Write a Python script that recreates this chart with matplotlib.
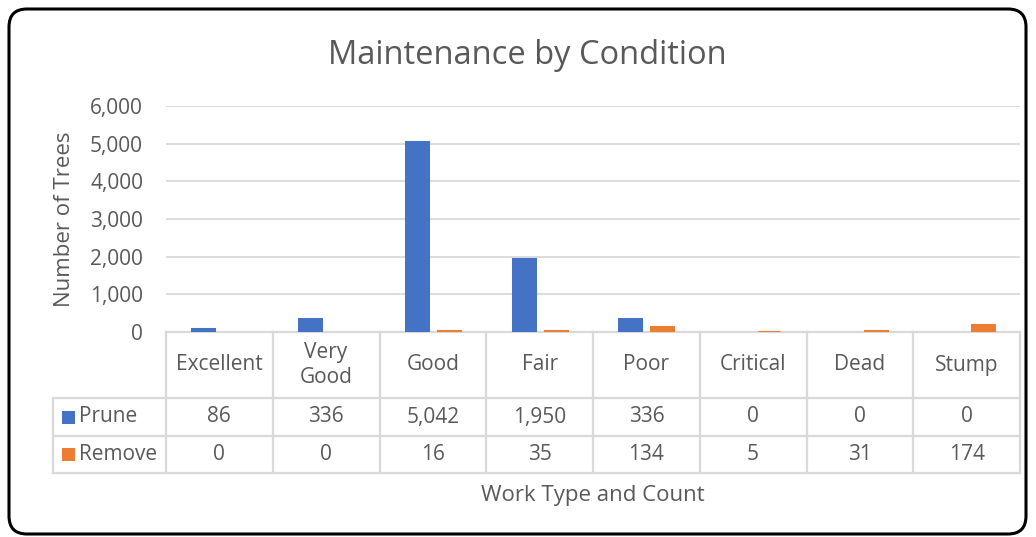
import matplotlib
matplotlib.use("Agg")
import matplotlib.pyplot as plt
import numpy as np
from matplotlib.patches import FancyBboxPatch, Rectangle
from matplotlib.lines import Line2D
from matplotlib.ticker import FuncFormatter
from matplotlib.transforms import blended_transform_factory

categories = ["Excellent", "Very\nGood", "Good", "Fair", "Poor", "Critical", "Dead", "Stump"]
series_names = ["Prune", "Remove"]
prune = [86, 336, 5042, 1950, 336, 0, 0, 0]
remove = [0, 0, 16, 35, 134, 5, 31, 174]
y_ticks = [0, 1000, 2000, 3000, 4000, 5000, 6000]

W, H = 1036, 537
blue = "#4472C4"
orange = "#ED7D31"
txt = "#595959"
grid = "#d9d9d9"
plt.rcParams["font.family"] = ["Open Sans", "DejaVu Sans"]

fig = plt.figure(figsize=(W / 100, H / 100), dpi=100)
fig.patch.set_facecolor("white")

# overlay in pixel coordinates (border, title, data table)
ov = fig.add_axes([0, 0, 1, 1])
ov.set_xlim(0, W)
ov.set_ylim(H, 0)
ov.axis("off")
ov.set_zorder(0)

# plot area in pixels
left, right, top, base = 166, 1020, 106, 332
ax = fig.add_axes([left / W, 1 - base / H, (right - left) / W, (base - top) / H])
ax.set_zorder(1)
ax.patch.set_visible(False)
x = np.arange(len(categories))
bw, off = 0.207, 0.15
# same-colour edge gives tiny values a visible sliver, as in the original
for vals, col, sgn in [(prune, blue, -1), (remove, orange, 1)]:
    bars = ax.bar(x + sgn * off, vals, bw, color=col, zorder=3)
    for b, v in zip(bars, vals):
        if v > 0:
            b.set_edgecolor(col)
            b.set_linewidth(2.2)
ax.set_xlim(-0.5, len(categories) - 0.5)
ax.set_ylim(0, 6000)
ax.set_yticks(y_ticks)
ax.yaxis.set_major_formatter(FuncFormatter(lambda v, p: f"{int(v):,}"))
ax.tick_params(axis="y", length=0, pad=16.5, labelsize=15, labelcolor=txt)
ax.set_xticks([])
ax.grid(axis="y", color=grid, linewidth=1.3, zorder=0)
for s in ax.spines.values():
    s.set_visible(False)
ax.set_ylabel("Number of Trees", fontsize=16, color=txt, labelpad=11)

ov.add_patch(FancyBboxPatch((9, 9), W - 19, H - 12, boxstyle="round,pad=0,rounding_size=18",
                            facecolor="none", edgecolor="black", linewidth=2.2, clip_on=False))

ov.text(527, 56, "Maintenance by Condition", fontsize=23.5, color=txt, ha="center", va="center")

# data table
tr = blended_transform_factory(ax.transData, ov.transData)
r0, r1, r2, r3 = 332, 398, 436, 473
lab_left = 53
lk = dict(color=grid, linewidth=1.6, solid_capstyle="projecting")
ov.add_line(Line2D([left, right], [r0, r0], **lk))
for yy in (r1, r2, r3):
    ov.add_line(Line2D([lab_left, right], [yy, yy], **lk))
ov.add_line(Line2D([lab_left, lab_left], [r1, r3], **lk))
for i in range(len(categories) + 1):
    ov.add_line(Line2D([i - 0.5, i - 0.5], [r0, r3], transform=tr, **lk))

fs = 15
for i, c in enumerate(categories):
    ov.text(i, (r0 + r1) / 2, c, transform=tr, ha="center", va="center", fontsize=fs,
            color=txt, linespacing=1.25)
    ov.text(i, (r1 + r2) / 2, f"{prune[i]:,}", transform=tr, ha="center", va="center",
            fontsize=fs, color=txt)
    ov.text(i, (r2 + r3) / 2, f"{remove[i]:,}", transform=tr, ha="center", va="center",
            fontsize=fs, color=txt)

for (ya, yb), name, col in zip([(r1, r2), (r2, r3)], series_names, [blue, orange]):
    yc = (ya + yb) / 2
    ov.add_patch(Rectangle((62, yc - 6.5), 13, 13, facecolor=col, edgecolor="none"))
    ov.text(79, yc, name, ha="left", va="center", fontsize=fs, color=txt)

ov.text((left + right) / 2, 496, "Work Type and Count", fontsize=16, color=txt, ha="center", va="center")

fig.savefig("out.png", dpi=100, facecolor="white")
